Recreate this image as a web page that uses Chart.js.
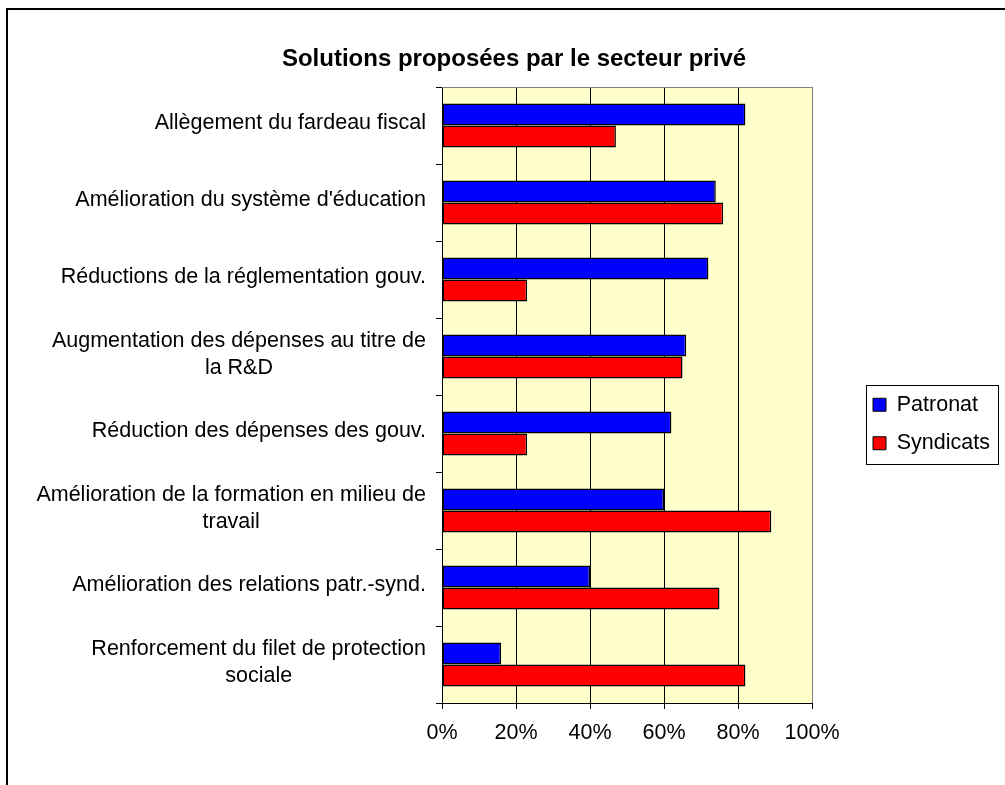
<!DOCTYPE html>
<html><head><meta charset="utf-8">
<script src="https://cdn.jsdelivr.net/npm/chart.js@4.4.1/dist/chart.umd.min.js"></script>
<style>html,body{margin:0;padding:0;background:#fff;overflow:hidden}canvas{display:block}</style>
</head><body>
<canvas id="c" width="1005" height="785"></canvas>
<script>
const categories = [
  ["Allègement du fardeau fiscal"],
  ["Amélioration du système d'éducation"],
  ["Réductions de la réglementation gouv."],
  ["Augmentation des dépenses au titre de", "la R&D"],
  ["Réduction des dépenses des gouv."],
  ["Amélioration de la formation en milieu de", "travail"],
  ["Amélioration des relations patr.-synd."],
  ["Renforcement du filet de protection", "sociale"]
];
const seriesNames = ["Patronat", "Syndicats"];
const patronat = [82, 74, 72, 66, 62, 60, 40, 16];
const syndicats = [47, 76, 23, 65, 23, 89, 75, 82];
const xTickMin = 0, xTickMax = 100, xTickStep = 20;
const titleText = "Solutions proposées par le secteur privé";
const FONT = "'Liberation Sans', Arial, Helvetica, sans-serif";
const LABEL_SIZE = 21.5;

const plotBg = {
  id: 'plotBg',
  beforeDraw(chart) {
    const {ctx, chartArea: a} = chart;
    ctx.save();
    ctx.fillStyle = '#FFFFCC';
    ctx.fillRect(a.left, a.top, a.right - a.left, a.bottom - a.top);
    ctx.restore();
  },
  afterDatasetsDraw(chart) {
    const {ctx, chartArea: a} = chart;
    ctx.save();
    ctx.strokeStyle = '#808080';
    ctx.lineWidth = 1;
    ctx.beginPath();
    ctx.moveTo(a.left, Math.round(a.top) + 0.5);
    ctx.lineTo(a.right, Math.round(a.top) + 0.5);
    ctx.stroke();
    ctx.restore();
  }
};

const legendFix = {
  id: 'legendFix',
  afterInit(chart) {
    const lg = chart.legend;
    const orig = lg.fit.bind(lg);
    lg.fit = function () { orig(); this.width = 193; };
  },
  afterLayout(chart) {
    const lg = chart.legend;
    lg.left = 856; lg.right = 1005;
    lg.top = 377; lg.bottom = 480;
  },
  afterDraw(chart) {
    const hb = chart.legend.legendHitBoxes;
    if (!hb || !hb.length) return;
    const l = Math.min(...hb.map(h => h.left)) - 7;
    const t = Math.min(...hb.map(h => h.top)) - 9;
    const r = Math.max(...hb.map(h => h.left + h.width)) + 8;
    const b = Math.max(...hb.map(h => h.top + h.height)) + 10;
    const ctx = chart.ctx;
    ctx.save();
    ctx.strokeStyle = '#000';
    ctx.lineWidth = 1;
    ctx.strokeRect(Math.round(l) + 0.5, Math.round(t) + 0.5, Math.round(r - l), Math.round(b - t));
    ctx.restore();
  }
};

const yLabels = {
  id: 'yLabels',
  afterDraw(chart) {
    const s = chart.scales.y;
    const ctx = chart.ctx;
    ctx.save();
    ctx.font = LABEL_SIZE + 'px ' + FONT;
    ctx.fillStyle = '#000';
    ctx.textAlign = 'center';
    ctx.textBaseline = 'middle';
    const right = s.right - 6 - 10;
    const lh = 27.5;
    categories.forEach((lines, i) => {
      const y = s.getPixelForTick(i) - 2;
      const w = Math.max(...lines.map(t => ctx.measureText(t).width));
      const cx = right - w / 2;
      lines.forEach((t, j) => ctx.fillText(t, cx, y + (j - (lines.length - 1) / 2) * lh));
    });
    ctx.restore();
  }
};

const frame = {
  id: 'frame',
  afterDraw(chart) {
    const ctx = chart.ctx;
    ctx.save();
    ctx.strokeStyle = '#000';
    ctx.lineWidth = 2;
    ctx.beginPath();
    ctx.moveTo(7, chart.height);
    ctx.lineTo(7, 9);
    ctx.lineTo(chart.width, 9);
    ctx.stroke();
    ctx.restore();
  }
};

new Chart(document.getElementById('c'), {
  type: 'bar',
  data: {
    labels: categories,
    datasets: [
      { label: seriesNames[0], data: patronat, backgroundColor: '#0000FF', borderColor: '#000', borderWidth: 1.5, borderSkipped: false, categoryPercentage: 0.572, barPercentage: 1 },
      { label: seriesNames[1], data: syndicats, backgroundColor: '#FF0000', borderColor: '#000', borderWidth: 1.5, borderSkipped: false, categoryPercentage: 0.572, barPercentage: 1 }
    ]
  },
  options: {
    indexAxis: 'y',
    responsive: false,
    animation: false,
    devicePixelRatio: 1,
    layout: { padding: { left: 23, right: 0, top: 0, bottom: 0 } },
    scales: {
      x: {
        min: xTickMin, max: xTickMax,
        ticks: { stepSize: xTickStep, callback: v => v + '%', color: '#000', font: { family: FONT, size: LABEL_SIZE }, padding: 11, maxRotation: 0 },
        grid: { color: c => (c.tick && c.tick.value === xTickMax) ? '#808080' : '#000', lineWidth: 1, tickLength: 6, tickColor: '#000', drawTicks: true },
        border: { display: true, color: '#000', width: 1 },
        afterFit: s => { s.height = 82; }
      },
      y: {
        ticks: { display: false, autoSkip: false },
        grid: { drawOnChartArea: false, drawTicks: true, tickLength: 6, color: '#000', tickColor: '#000', offset: true },
        border: { display: true, color: '#000', width: 1 },
        afterFit: s => { s.width = 419; }
      }
    },
    plugins: {
      title: { display: true, text: titleText, color: '#000', font: { family: FONT, size: 24, weight: 'bold' }, padding: { top: 45, bottom: 13.2 } },
      legend: {
        position: 'right', align: 'start', fullSize: false,
        labels: {
          color: '#000', boxWidth: 13, boxHeight: 13, padding: 17,
          font: { family: FONT, size: LABEL_SIZE },
          generateLabels: chart => Chart.defaults.plugins.legend.labels.generateLabels(chart).map(l => Object.assign(l, { lineWidth: 1, strokeStyle: '#000' }))
        }
      },
      tooltip: { enabled: false }
    }
  },
  plugins: [plotBg, legendFix, yLabels, frame]
});
</script>
</body></html>
